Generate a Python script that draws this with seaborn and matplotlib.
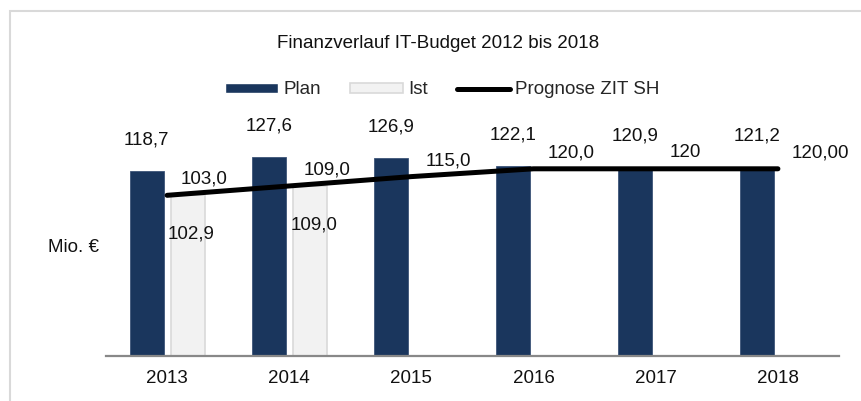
import numpy as np
import pandas as pd
import matplotlib
matplotlib.use("Agg")
import matplotlib.pyplot as plt
from matplotlib.patches import Rectangle
import seaborn as sns

years = ["2013", "2014", "2015", "2016", "2017", "2018"]
plan = [118.7, 127.6, 126.9, 122.1, 120.9, 121.2]
ist = [102.9, 109.0, np.nan, np.nan, np.nan, np.nan]
prognose = [103.0, 109.0, 115.0, 120.0, 120.0, 120.0]
plan_labels = ["118,7", "127,6", "126,9", "122,1", "120,9", "121,2"]
ist_labels = ["102,9", "109,0", "", "", "", ""]
prognose_labels = ["103,0", "109,0", "115,0", "120,0", "120", "120,00"]
title = "Finanzverlauf IT-Budget 2012 bis 2018"
ylabel = "Mio. €"

sns.set_theme(style="white")
plt.rcParams["font.family"] = ["Liberation Sans", "DejaVu Sans"]

df = pd.DataFrame({
    "Jahr": years * 2,
    "Reihe": ["Plan"] * len(years) + ["Ist"] * len(years),
    "Wert": plan + ist,
})

W, H = 861, 401
fig = plt.figure(figsize=(W / 100, H / 100), dpi=100)
ax = fig.add_axes([106 / W, (H - 356) / H, (839 - 106) / W, 140 * 1.56 / H])

sns.barplot(data=df, x="Jahr", y="Wert", hue="Reihe", hue_order=["Plan", "Ist"],
            order=years, palette={"Plan": "#1a365d", "Ist": "#f2f2f2"},
            saturation=1, width=0.67, gap=0.17, ax=ax, errorbar=None, legend=True)

for bar in ax.containers[0]:
    bar.set_edgecolor("#3d5478")
    bar.set_linewidth(0.6)
for bar in ax.containers[1]:
    bar.set_edgecolor("#d9d9d9")
    bar.set_linewidth(1.2)

xpos = np.arange(len(years))
sns.lineplot(x=xpos, y=prognose, color="black", linewidth=3.6, ax=ax,
             label="Prognose ZIT SH", solid_capstyle="round", zorder=5)

ax.set_xlim(-0.5, 5.5)
ax.set_ylim(0, 140)

fs = 13.5
tc = "#111111"
# data labels
for bar, lab in zip(ax.containers[0], plan_labels):
    cx = bar.get_x() + bar.get_width() / 2
    ax.annotate(lab, (cx, bar.get_height()), xytext=(0, 31), textcoords="offset pixels",
                ha="center", va="center", fontsize=fs, color=tc)
for bar, lab in zip(ax.containers[1], ist_labels):
    h = bar.get_height()
    if lab and np.isfinite(h):
        cx = bar.get_x() + bar.get_width() / 2
        ax.annotate(lab, (cx, h), xytext=(4, -39), textcoords="offset pixels",
                    ha="center", va="center", fontsize=fs, color=tc)
for x, v, lab in zip(xpos, prognose, prognose_labels):
    ax.annotate(lab, (x, v), xytext=(14, 16), textcoords="offset pixels",
                ha="left", va="center", fontsize=fs, color=tc)

handles, labels = ax.get_legend_handles_labels()
if ax.get_legend() is not None:
    ax.get_legend().remove()
leg = fig.legend(handles, labels, loc="center", bbox_to_anchor=(442 / W, 1 - 90 / H), ncol=3,
                 frameon=False, fontsize=fs, handlelength=2.83, handleheight=0.48,
                 handletextpad=0.27, columnspacing=1.55)
for h, lab in zip(leg.legend_handles, labels):
    if lab == "Ist":
        h.set_edgecolor("#d9d9d9")
        h.set_linewidth(1.2)

fig.text(438 / W, 1 - 43 / H, title, ha="center", va="center", fontsize=fs, color=tc)
fig.text(73 / W, 1 - 248 / H, ylabel, ha="center", va="center", fontsize=fs, color=tc)

ax.set_xlabel("")
ax.set_ylabel("")
ax.set_yticks([])
ax.tick_params(axis="x", length=0, pad=10, labelsize=fs, colors=tc)
for s in ["top", "right", "left"]:
    ax.spines[s].set_visible(False)
ax.spines["bottom"].set_color("#888888")
ax.spines["bottom"].set_linewidth(1.6)
ax.patch.set_alpha(0)

fig.patches.append(Rectangle((10 / W, -0.1), 1.2, 1.1 - 11 / H, transform=fig.transFigure,
                             fill=False, edgecolor="#d9d9d9", linewidth=1.5))

fig.savefig("out.png", dpi=100)
